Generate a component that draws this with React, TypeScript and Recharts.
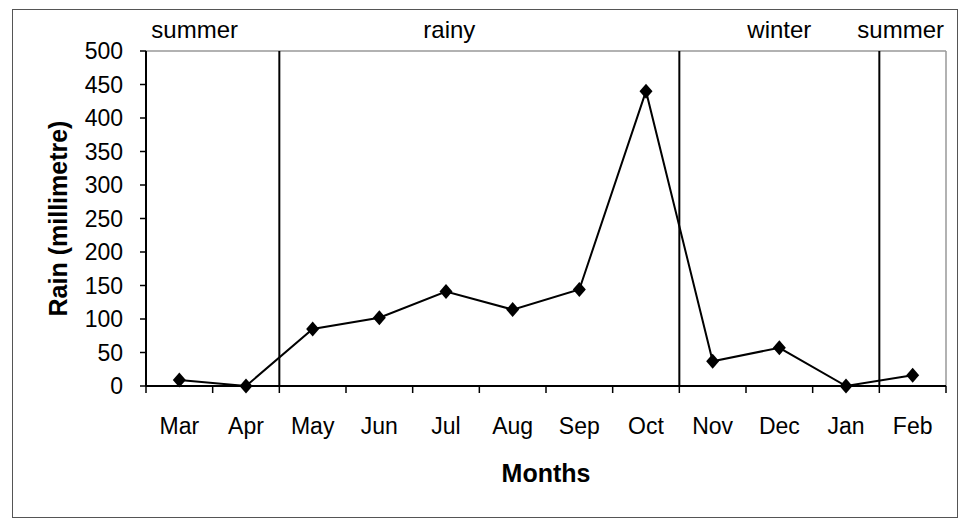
import React from "react"
import { LineChart, Line, XAxis, YAxis, ReferenceLine, ReferenceArea } from "recharts"

const months = ["Mar", "Apr", "May", "Jun", "Jul", "Aug", "Sep", "Oct", "Nov", "Dec", "Jan", "Feb"]
const rain = [9, 0, 85, 102, 141, 114, 144, 440, 37, 57, 0, 16]
const yTicks = [0, 50, 100, 150, 200, 250, 300, 350, 400, 450, 500]

const seasons = ["summer", "rainy", "winter", "summer"]
const seasonFirst = ["Mar", "May", "Nov", "Feb"]
const seasonLast = ["Apr", "Oct", "Jan", "Feb"]

// label nudges so the season names sit where the original put them
const seasonShift = [-18, -30, 0, -12]

const data = months.map((month, i) => ({ month, rain: rain[i] }))

const font = "'Liberation Sans', Arial, sans-serif"
const TICK_SIZE = 6
const TICK_MARGIN = 26

function Diamond(props: any) {
  const { cx, cy, index } = props
  if (cx == null || cy == null) return null
  return (
    <polygon
      key={`d-${index}`}
      points={`${cx},${cy - 7.5} ${cx + 6.5},${cy} ${cx},${cy + 7.5} ${cx - 6.5},${cy}`}
      fill="#000"
    />
  )
}

// Excel puts category ticks between the months, so draw them at the band edges
function MonthTick(props: any) {
  const { x, y, payload, index, visibleTicksCount } = props
  const half = payload.offset || 0
  const axisY = y - TICK_SIZE - TICK_MARGIN
  return (
    <g>
      <line x1={x - half} x2={x - half} y1={axisY} y2={axisY + 7} stroke="#000" strokeWidth={1.5} />
      {index === visibleTicksCount - 1 && (
        <line x1={x + half} x2={x + half} y1={axisY} y2={axisY + 7} stroke="#000" strokeWidth={1.5} />
      )}
      <text x={x} y={y} dy="0.71em" textAnchor="middle" fontSize={23} fontFamily={font} fill="#000">
        {payload.value}
      </text>
    </g>
  )
}

export default function App() {
  return (
    <div style={{ position: "absolute", left: 0, top: 0, width: 960, height: 521, background: "#fff", fontFamily: font }}>
      <div style={{ position: "absolute", left: 12, top: 9, width: 944, height: 507, border: "1.5px solid #555" }} />
      <div style={{ position: "absolute", left: 0, top: 0 }}>
        <LineChart width={960} height={521} data={data} margin={{ top: 51, right: 14, bottom: 35, left: 20 }}>
          <XAxis
            dataKey="month"
            scale="band"
            interval={0}
            height={100}
            tickLine={false}
            tickSize={TICK_SIZE}
            tickMargin={TICK_MARGIN}
            axisLine={{ stroke: "#000", strokeWidth: 2 }}
            tick={<MonthTick />}
            label={{ value: "Months", position: "insideBottom", offset: 4, fontSize: 25, fontWeight: "bold", fill: "#000", fontFamily: font }}
          />
          <YAxis
            width={126}
            domain={[0, 500]}
            ticks={yTicks}
            interval={0}
            tickSize={6}
            tickMargin={17}
            tickLine={{ stroke: "#000", strokeWidth: 1.5 }}
            axisLine={{ stroke: "#000", strokeWidth: 2 }}
            tick={{ fill: "#000", fontSize: 23, fontFamily: font }}
            label={{
              content: (p: any) => {
                const vb = p.viewBox
                const x = vb.x + 38
                const y = vb.y + vb.height / 2
                return (
                  <text
                    x={x}
                    y={y}
                    transform={`rotate(-90, ${x}, ${y})`}
                    textAnchor="middle"
                    dominantBaseline="central"
                    fontSize={25}
                    fontWeight="bold"
                    fontFamily={font}
                    fill="#000"
                  >
                    Rain (millimetre)
                  </text>
                )
              },
            }}
          />
          <ReferenceLine y={500} stroke="#999" strokeWidth={1.5} />
          <ReferenceLine x={months[months.length - 1]} position="end" stroke="#999" strokeWidth={1.5} />
          {seasonFirst.slice(1).map((m) => (
            <ReferenceLine key={`div-${m}`} x={m} position="start" stroke="#000" strokeWidth={2} />
          ))}
          {seasons.map((name, i) => (
            <ReferenceArea
              key={`season-${i}`}
              x1={seasonFirst[i]}
              x2={seasonLast[i]}
              y1={0}
              y2={500}
              fill="none"
              stroke="none"
              label={{
                content: (p: any) => {
                  const vb = p.viewBox
                  return (
                    <text
                      x={vb.x + vb.width / 2 + seasonShift[i]}
                      y={vb.y - 13}
                      textAnchor="middle"
                      fontSize={24}
                      fontFamily={font}
                      fill="#000"
                    >
                      {name}
                    </text>
                  )
                },
              }}
            />
          ))}
          <Line
            dataKey="rain"
            stroke="#000"
            strokeWidth={2}
            dot={Diamond}
            activeDot={false}
            isAnimationActive={false}
          />
        </LineChart>
      </div>
    </div>
  )
}
